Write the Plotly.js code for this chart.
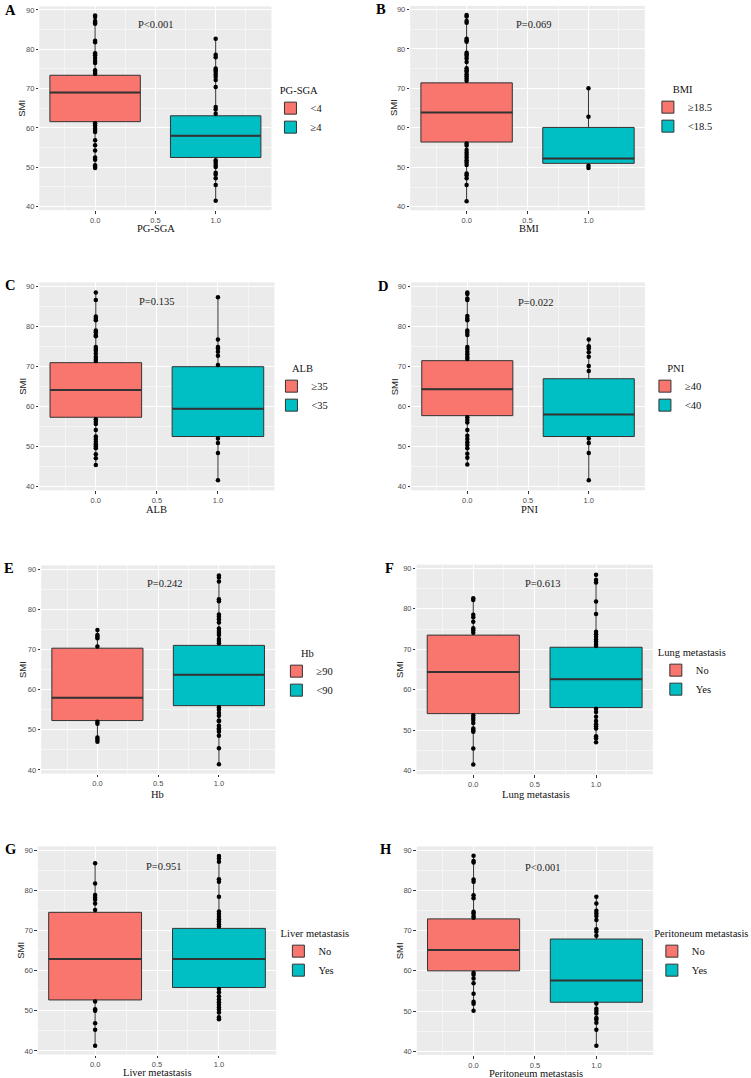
<!DOCTYPE html>
<html><head><meta charset="utf-8">
<script src="https://cdn.plot.ly/plotly-3.0.1.min.js"></script>
<style>html,body{margin:0;padding:0;background:#fff}</style>
</head><body><div id="chart" style="width:751px;height:1078px"></div>
<script>
// ---------------- DATA ----------------
const letters = ['A','B','C','D','E','F','G','H'];
const groupVar = ['PG-SGA','BMI','ALB','PNI','Hb','Lung metastasis','Liver metastasis','Peritoneum metastasis'];
const yTitle = 'SMI';
const legendLabels = [['&lt;4','≥4'],['≥18.5','&lt;18.5'],['≥35','&lt;35'],['≥40','&lt;40'],['≥90','&lt;90'],['No','Yes'],['No','Yes'],['No','Yes']];
const pValues = ['P&lt;0.001','P=0.069','P=0.135','P=0.022','P=0.242','P=0.613','P=0.951','P&lt;0.001'];
const groupX = [0, 1];
const yTickVals = [40,50,60,70,80,90];

// box statistics, group 0 (red) per panel A..H
const q1_0     = [61.6, 56.4, 57.3, 57.7, 52.3, 54.1, 52.7, 60.0];
const median_0 = [69.0, 63.9, 64.1, 64.3, 58.0, 64.4, 62.9, 65.2];
const q3_0     = [73.4, 71.4, 70.9, 71.4, 70.3, 73.5, 74.5, 72.9];
const lower_0  = [49.8, 41.4, 45.4, 45.5, 47.0, 41.5, 41.3, 50.1];
const upper_0  = [88.6, 88.6, 88.4, 88.4, 74.8, 82.6, 86.7, 88.6];
// box statistics, group 1 (teal)
const q1_1     = [52.5, 51.0, 52.5, 52.5, 56.0, 55.6, 55.8, 52.2];
const median_1 = [58.0, 52.2, 59.4, 58.0, 63.7, 62.6, 62.9, 57.6];
const q3_1     = [63.1, 60.1, 69.9, 66.9, 71.0, 70.5, 70.5, 67.9];
const lower_1  = [41.5, 49.8, 41.6, 41.6, 41.4, 47.0, 47.9, 41.4];
const upper_1  = [82.7, 70.0, 87.2, 76.7, 88.4, 88.4, 88.5, 78.4];

// individual SMI points visible outside the boxes
const ptsA0 = [88.6,88.2,87.2,86.8,86.5,82.2,81.8,79.0,78.5,77.8,77.0,76.5,74.7,74.2,73.8,61.2,60.6,60.0,59.5,59.0,56.9,55.6,54.3,52.5,51.9,50.5,50.1,49.8];
const ptsA1 = [82.7,78.6,78.0,75.1,74.7,74.2,73.6,73.0,72.2,70.4,65.3,64.7,63.6,51.8,51.2,50.6,50.1,48.6,48.2,47.2,45.5,41.5];
const ptsB0 = [88.6,88.2,87.1,86.6,82.6,82.2,81.8,79.0,78.6,78.2,77.6,76.7,75.1,74.6,74.2,73.6,73.1,72.5,71.9,56.0,55.5,54.4,53.7,53.1,52.5,51.8,51.2,50.6,48.4,48.0,47.2,45.5,41.4];
const ptsB1 = [70.0,62.8,50.4,49.8];
const ptsC0 = [88.4,86.5,82.4,81.9,81.5,78.9,78.5,77.8,77.5,74.8,74.3,73.9,73.2,72.4,71.8,71.3,56.8,56.2,55.6,54.1,52.5,51.9,51.2,50.6,50.1,49.6,48.1,47.1,45.4];
const ptsC1 = [87.2,76.7,74.8,74.4,73.6,72.6,70.3,52.0,50.9,48.4,41.6];
const ptsD0 = [88.4,88.0,86.9,86.5,82.5,81.9,81.5,78.9,78.4,77.8,74.8,74.3,73.6,73.0,72.3,71.8,57.3,56.6,56.0,54.1,52.7,51.9,51.1,50.4,49.6,48.2,47.2,45.5];
const ptsD1 = [76.7,75.0,74.4,73.5,72.4,70.1,68.8,52.0,50.9,48.4,41.6];
const ptsE0 = [74.8,73.6,73.2,72.8,70.7,52.0,51.5,48.1,47.6,47.0];
const ptsE1 = [88.4,87.9,86.9,82.5,82.0,78.7,78.1,77.5,76.7,75.2,74.6,74.1,73.6,72.6,72.1,71.5,55.6,55.0,54.2,53.5,52.3,52.1,51.0,50.4,50.0,49.5,48.5,45.4,41.4];
const ptsF0 = [82.6,82.2,78.5,77.9,76.8,75.2,74.7,74.1,53.7,53.1,52.5,51.8,50.4,50.0,49.6,45.5,41.5];
const ptsF1 = [88.4,87.1,86.5,81.8,78.7,74.3,73.7,73.1,72.4,71.9,71.3,70.8,55.3,54.5,53.3,52.3,51.5,51.0,50.4,48.5,48.0,47.0];
const ptsG0 = [86.7,81.7,78.8,78.2,77.6,76.7,75.1,52.3,50.4,50.0,46.9,45.3,41.3];
const ptsG1 = [88.5,87.9,87.1,82.7,82.1,78.4,74.7,74.1,73.4,72.8,72.2,71.5,71.0,55.4,54.6,53.6,52.8,52.1,51.5,50.8,50.3,49.6,48.4,47.9];
const ptsH0 = [88.6,87.3,86.9,82.7,82.1,78.8,78.0,74.7,74.3,73.6,73.2,59.5,59.0,58.1,56.9,54.3,52.3,51.8,50.1];
const ptsH1 = [78.4,76.7,74.9,74.3,73.6,72.6,70.3,69.7,68.7,51.9,50.6,50.0,49.4,48.3,47.9,47.1,45.4,41.4];
const points0 = [ptsA0, ptsB0, ptsC0, ptsD0, ptsE0, ptsF0, ptsG0, ptsH0];
const points1 = [ptsA1, ptsB1, ptsC1, ptsD1, ptsE1, ptsF1, ptsG1, ptsH1];
// p-value label position (data coords)
const pX = [0.5, 0.55, 0.5, 0.56, 0.55, 0.56, 0.55, 0.565];
const pY = [86.4, 86.2, 86.1, 85.9, 86.4, 86.3, 85.9, 85.6];

// ---------------- LAYOUT / STYLE ----------------
const W = 751, H = 1078;
const SERIF = '"Liberation Serif", "Times New Roman", serif';
const SANS = '"Liberation Sans", Arial, sans-serif';
const fills = ['#F8766D', '#00BFC4'];
const BOXW = 0.75;
// plot areas in pixels [x0, x1, yTop, yBottom]
const areas = [
  [39.7, 274.0, 6.4, 210.2],
  [414.1, 650.9, 5.9, 210.3],
  [39.7, 277.0, 282.4, 490.3],
  [415.0, 651.0, 282.4, 490.3],
  [41.6, 277.7, 565.4, 773.6],
  [420.4, 659.0, 564.7, 774.3],
  [38.2, 278.8, 846.4, 1054.6],
  [420.7, 659.3, 846.4, 1055.0]
];
// axis-title centres in pixels
const xTitlePos = [[157, 229], [533.5, 229], [158, 509], [534, 509], [159, 794], [541, 794], [159, 1072.5], [541, 1073]];
const yTitleX = [21.7, 396.7, 22.7, 397.7, 22.7, 403.3, 20.5, 403.3];
const legPos = [[273, 80], [654, 79], [274, 358], [651, 358], [279, 643], [662, 642], [281, 923], [658, 923]];
const letterPos = [[3, 9.5], [378, 8.5], [3, 285], [380, 286], [2, 567.5], [387, 567.7], [3, 849], [382, 849]];

const traces = [];
const layout = {
  width: W, height: H,
  margin: {l: 0, r: 0, t: 0, b: 0},
  paper_bgcolor: '#fff', plot_bgcolor: '#EBEBEB',
  boxmode: 'overlay',
  annotations: [], showlegend: true
};

for (let i = 0; i < 8; i++) {
  const s = i === 0 ? '' : String(i + 1);
  const xa = 'x' + s, ya = 'y' + s;
  const legName = 'legend' + s;
  const stats = [
    {q1: q1_0[i], med: median_0[i], q3: q3_0[i], lo: lower_0[i], hi: upper_0[i], pts: points0[i]},
    {q1: q1_1[i], med: median_1[i], q3: q3_1[i], lo: lower_1[i], hi: upper_1[i], pts: points1[i]}
  ];
  stats.forEach((st, g) => {
    traces.push({
      type: 'box', x: [groupX[g]], q1: [st.q1], median: [st.med], q3: [st.q3],
      lowerfence: [st.lo], upperfence: [st.hi],
      width: BOXW, whiskerwidth: 0, boxpoints: false,
      fillcolor: fills[g], line: {color: '#333333', width: 1},
      name: legendLabels[i][g], legend: legName, showlegend: true,
      xaxis: xa, yaxis: ya, hoverinfo: 'skip'
    });
  });
  stats.forEach((st, g) => {
    traces.push({
      type: 'scatter', mode: 'markers',
      x: st.pts.map(() => groupX[g]), y: st.pts,
      marker: {color: '#000', size: 4.5},
      showlegend: false, xaxis: xa, yaxis: ya, hoverinfo: 'skip', cliponaxis: false
    });
  });
  // thicker median lines (ggplot fatten)
  const mx = [], my = [];
  stats.forEach((st, g) => {
    mx.push(groupX[g] - BOXW / 2, groupX[g] + BOXW / 2, null);
    my.push(st.med, st.med, null);
  });
  traces.push({type: 'scatter', mode: 'lines', x: mx, y: my, line: {color: '#333333', width: 2},
    showlegend: false, xaxis: xa, yaxis: ya, hoverinfo: 'skip'});

  const a = areas[i];
  layout['xaxis' + s] = {
    domain: [a[0] / W, a[1] / W], anchor: ya, range: [-0.4625, 1.4625],
    tick0: 0, dtick: 0.5, tickformat: '.1f',
    ticks: 'outside', ticklen: 2.5, tickwidth: 1, tickcolor: '#333',
    tickfont: {family: SANS, size: 7.5, color: '#4D4D4D'},
    showgrid: true, gridcolor: '#FFFFFF', gridwidth: 1,
    minor: {dtick: 0.25, tick0: 0, showgrid: true, gridcolor: '#FFFFFF', gridwidth: 0.5},
    zeroline: false, showline: false, fixedrange: true
  };
  layout['yaxis' + s] = {
    domain: [1 - a[3] / H, 1 - a[2] / H], anchor: xa, range: [39.1, 90.9],
    tickmode: 'array', tickvals: yTickVals,
    ticks: 'outside', ticklen: 2.5, tickwidth: 1, tickcolor: '#333',
    tickfont: {family: SANS, size: 7.5, color: '#4D4D4D'},
    showgrid: true, gridcolor: '#FFFFFF', gridwidth: 1,
    minor: {dtick: 5, tick0: 0, showgrid: true, gridcolor: '#FFFFFF', gridwidth: 0.5},
    zeroline: false, showline: false, fixedrange: true
  };
  layout[legName] = {
    x: legPos[i][0] / W, y: 1 - legPos[i][1] / H, xanchor: 'left', yanchor: 'top',
    title: {text: groupVar[i], side: 'top center', font: {family: SERIF, size: 10.5, color: '#111'}},
    font: {family: SERIF, size: 10.5, color: '#111'},
    bgcolor: 'rgba(0,0,0,0)', borderwidth: 0, tracegroupgap: 0
  };
  // x-axis title
  layout.annotations.push({
    xref: 'paper', yref: 'paper', x: xTitlePos[i][0] / W, y: 1 - xTitlePos[i][1] / H,
    text: groupVar[i], showarrow: false, xanchor: 'center', yanchor: 'middle',
    font: {family: SERIF, size: 10.5, color: '#111'}
  });
  // y-axis title
  layout.annotations.push({
    xref: 'paper', yref: 'paper', x: yTitleX[i] / W, y: 1 - (a[2] + a[3]) / 2 / H,
    text: yTitle, showarrow: false, xanchor: 'center', yanchor: 'middle', textangle: -90,
    font: {family: SANS, size: 9.5, color: '#1a1a1a'}
  });
  layout.annotations.push({
    xref: xa, yref: ya, x: pX[i], y: pY[i], text: pValues[i], showarrow: false,
    font: {family: SERIF, size: 10.5, color: '#222'}, xanchor: 'center', yanchor: 'middle'
  });
  layout.annotations.push({
    xref: 'paper', yref: 'paper', x: letterPos[i][0] / W, y: 1 - letterPos[i][1] / H,
    text: '<b>' + letters[i] + '</b>', showarrow: false, xanchor: 'left', yanchor: 'middle',
    font: {family: SERIF, size: 14.5, color: '#000'}
  });
}

Plotly.newPlot('chart', traces, layout, {staticPlot: true, displayModeBar: false});
</script></body></html>
